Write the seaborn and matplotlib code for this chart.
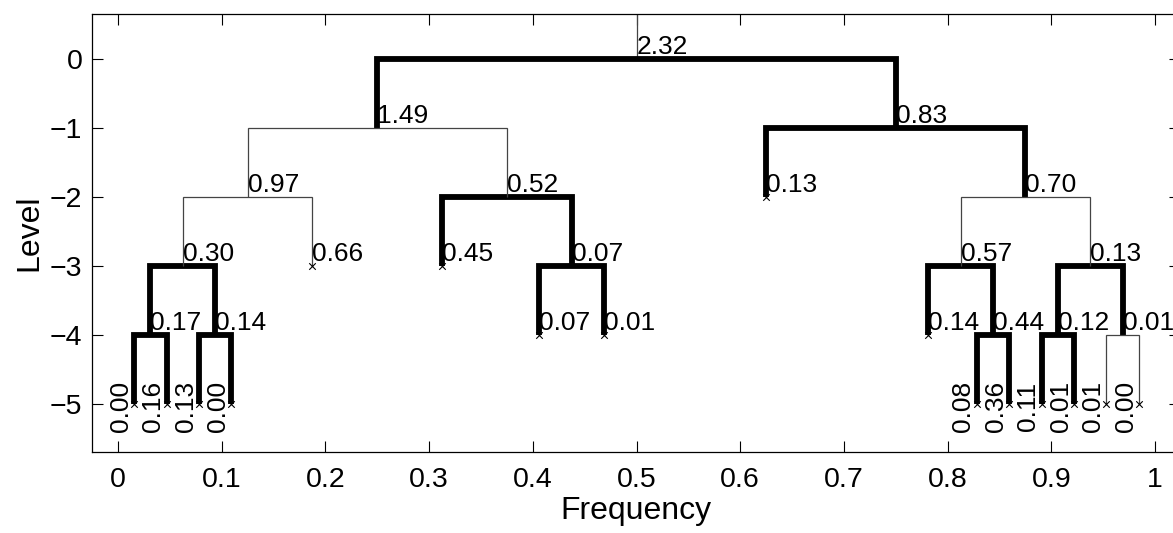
import matplotlib
matplotlib.use("Agg")
import matplotlib.pyplot as plt
import numpy as np
import pandas as pd
import seaborn as sns

# Wavelet packet tree: each node is (depth, index) with its entropy value
depth0 = [0]
index0 = [0]
value0 = [2.32]

depth1 = [1, 1]
index1 = [0, 1]
value1 = [1.49, 0.83]

depth2 = [2, 2, 2, 2]
index2 = [0, 1, 2, 3]
value2 = [0.97, 0.52, 0.13, 0.70]

depth3 = [3, 3, 3, 3, 3, 3]
index3 = [0, 1, 2, 3, 6, 7]
value3 = [0.30, 0.66, 0.45, 0.07, 0.57, 0.13]

depth4 = [4, 4, 4, 4, 4, 4, 4, 4]
index4 = [0, 1, 6, 7, 12, 13, 14, 15]
value4 = [0.17, 0.14, 0.07, 0.01, 0.14, 0.44, 0.12, 0.01]

depth5 = [5, 5, 5, 5, 5, 5, 5, 5, 5, 5]
index5 = [0, 1, 2, 3, 26, 27, 28, 29, 30, 31]
value5 = [0.00, 0.16, 0.13, 0.00, 0.08, 0.36, 0.11, 0.01, 0.01, 0.00]

# splits drawn with a thin line (all other splits are bold)
thin_splits = [(1, 0), (2, 0), (2, 3), (4, 15)]

x_ticks = [0, 0.1, 0.2, 0.3, 0.4, 0.5, 0.6, 0.7, 0.8, 0.9, 1]
x_tick_labels = ["0", "0.1", "0.2", "0.3", "0.4", "0.5", "0.6", "0.7", "0.8", "0.9", "1"]
y_ticks = [0, -1, -2, -3, -4, -5]
y_tick_labels = ["0", "\u22121", "\u22122", "\u22123", "\u22124", "\u22125"]

nodes = pd.DataFrame({
    "depth": depth0 + depth1 + depth2 + depth3 + depth4 + depth5,
    "index": index0 + index1 + index2 + index3 + index4 + index5,
    "value": value0 + value1 + value2 + value3 + value4 + value5,
})
nodes["freq"] = (nodes["index"] + 0.5) / 2.0 ** nodes["depth"]
nodes["level"] = -nodes["depth"]
keys = set(zip(nodes["depth"], nodes["index"]))
nodes["leaf"] = [(d + 1, 2 * i) not in keys for d, i in zip(nodes["depth"], nodes["index"])]

# edges: for every split, child-left up, across, child-right down
rows = []
for d, i, f, lv, leaf in nodes[["depth", "index", "freq", "level", "leaf"]].itertuples(index=False):
    if leaf:
        continue
    kind = "thin" if (d, i) in thin_splits else "thick"
    fl = (2 * i + 0.5) / 2.0 ** (d + 1)
    fr = (2 * i + 1.5) / 2.0 ** (d + 1)
    for k, (xx, yy) in enumerate([(fl, lv - 1), (fl, lv), (fr, lv), (fr, lv - 1)]):
        rows.append({"split": f"{d}-{i}", "order": k, "freq": xx, "level": yy, "kind": kind})
edges = pd.DataFrame(rows)

sns.set_theme(style="ticks")
plt.rcParams["font.family"] = ["Liberation Sans", "DejaVu Sans"]
plt.rcParams["text.color"] = "black"
plt.rcParams["axes.labelcolor"] = "black"

fig = plt.figure(figsize=(11.73, 5.33), dpi=100)
ax = fig.add_axes([92 / 1173, 1 - 452 / 533, (1180 - 92) / 1173, (452 - 14) / 533])

xlim = (-0.025, 1.024)
ylim = (-5.70, 0.652)

# stem above the root
ax.plot([0.5, 0.5], [0, ylim[1] + 1], color="#444444", lw=0.9, zorder=2)

sns.lineplot(data=edges, x="freq", y="level", units="split", estimator=None, sort=False,
             hue="kind", palette={"thick": "black", "thin": "#444444"},
             size="kind", sizes={"thick": 4.2, "thin": 0.9},
             legend=False, ax=ax, zorder=3)
for line in ax.lines:
    line.set_solid_joinstyle("miter")
    line.set_solid_capstyle("butt")

leaves = nodes[nodes["leaf"]]
sns.scatterplot(data=leaves, x="freq", y="level", marker="x", color="black",
                s=22, linewidth=0.8, ax=ax, zorder=4, legend=False)

# value labels
for d, f, lv, v in nodes[["depth", "freq", "level", "value"]].itertuples(index=False):
    txt = f"{v:.2f}"
    if d == 5:
        ax.annotate(txt, (f, lv), xytext=(-1, -2), textcoords="offset points",
                    rotation=90, rotation_mode="anchor", ha="center", va="bottom",
                    fontsize=19, color="black", zorder=5)
    else:
        ax.annotate(txt, (f, lv), xytext=(0, 0), textcoords="offset points",
                    ha="left", va="bottom", fontsize=19, color="black", zorder=5)

ax.set_xlim(*xlim)
ax.set_ylim(*ylim)
ax.set_xticks(x_ticks)
ax.set_xticklabels(x_tick_labels)
ax.set_yticks(y_ticks)
ax.set_yticklabels(y_tick_labels)
ax.tick_params(axis="both", direction="in", length=8, width=0.8, colors="black",
               labelsize=20.5, top=True, right=True)
ax.tick_params(axis="x", pad=11)
ax.tick_params(axis="y", pad=7)
for s in ax.spines.values():
    s.set_visible(True)
    s.set_color("black")
    s.set_linewidth(0.9)
ax.set_xlabel("Frequency", fontsize=23, labelpad=2, color="black")
ax.set_ylabel("Level", fontsize=23, labelpad=4, color="black")
ax.grid(False)

fig.savefig("out.png", dpi=100)
